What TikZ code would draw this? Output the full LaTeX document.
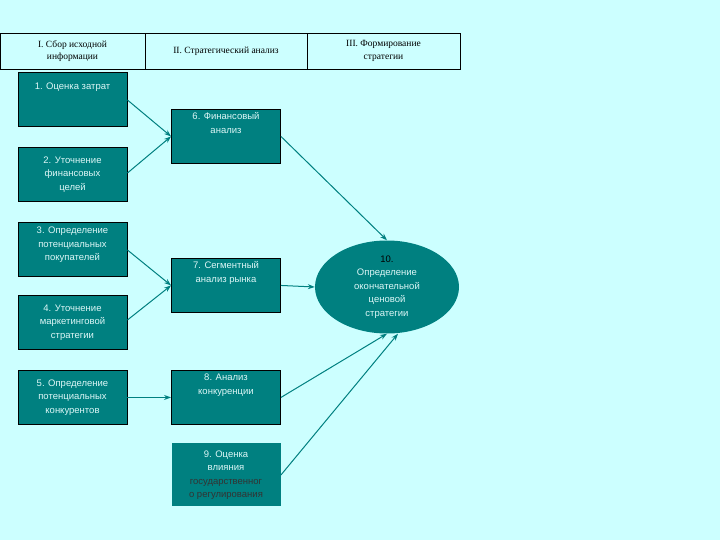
\documentclass[tikz,border=0pt]{standalone}
\usepackage{fontspec}
\setmainfont{Liberation Sans}
\newfontfamily\hdrfont{Liberation Serif}
\usetikzlibrary{shapes.geometric,arrows.meta}
\definecolor{bg}{HTML}{CCFFFF}
\definecolor{tealf}{HTML}{008080}
\definecolor{ltxt}{HTML}{DDF7F7}
\begin{document}
\begin{tikzpicture}[x=1pt,y=-1pt,
 box/.style={draw=black,line width=0.9pt,fill=tealf,text=ltxt,minimum width=109pt,minimum height=54pt,inner sep=2pt,font=\fontsize{9.5}{13.5}\selectfont,align=center},
 hdr/.style={draw=black,line width=0.8pt,fill=bg,minimum height=36pt,font=\hdrfont\fontsize{9.5}{12.5}\selectfont,align=center,inner sep=0pt},
 arr/.style={draw=tealf,line width=1pt,-{Stealth[length=7pt,width=5pt]}}]
\useasboundingbox (0,0) rectangle (720,540);
\fill[bg] (0,0) rectangle (720,540);
\node[hdr,minimum width=145pt] (h1) at (72.5,51) {I. Сбор исходной\\информации};
\node[hdr,minimum width=162pt] (h2) at (226,51) {II. Стратегический анализ};
\node[hdr,minimum width=153pt] (h3) at (383.5,51) {III. Формирование\\стратегии};
\node[box,anchor=north] (b1) at (72.5,72) {1. Оценка затрат\\[13.5pt]\mbox{}};
\node[box,anchor=north] (b2) at (72.5,147) {2. Уточнение\\финансовых\\целей};
\node[box,anchor=north] (b3) at (72.5,222) {3. Определение\\потенциальных\\покупателей\\[-2pt]};
\node[box,anchor=north] (b4) at (72.5,295) {4. Уточнение\\маркетинговой\\стратегии};
\node[box,anchor=north] (b5) at (72.5,370) {5. Определение\\потенциальных\\конкурентов};
\node[box,anchor=north] (b6) at (226,109) {6. Финансовый\\анализ\\[13.5pt]\mbox{}};
\node[box,anchor=north] (b7) at (226,258) {7. Сегментный\\анализ рынка\\[13.5pt]\mbox{}};
\node[box,anchor=north] (b8) at (226,370) {8. Анализ\\конкуренции\\[13.5pt]\mbox{}};
\node[box,draw=none,anchor=north,minimum height=63pt] (b9) at (226,443) {9. Оценка\\влияния\\\textcolor{black!80}{государственног}\\\textcolor{black!80}{о регулирования}};
\node[ellipse,fill=tealf,minimum width=144pt,minimum height=93pt,inner sep=0pt,text=ltxt,font=\fontsize{9.5}{13.5}\selectfont,align=center] (e) at (387,287) {\textcolor{black}{10.}\\Определение\\окончательной\\ценовой\\стратегии};
\draw[arr] (b1.east |- 0,100) -- (b6.west);
\draw[arr] (b2.east |- 0,173) -- (b6.west);
\draw[arr] (b6.east) -- (e.north);
\draw[arr] (b3.east |- 0,250) -- (b7.west);
\draw[arr] (b4.east |- 0,320) -- (b7.west);
\draw[arr] (b7.east) -- (e.west);
\draw[arr] (b5.east) -- (b8.west);
\draw[arr] (b8.east) -- (e.south);
\draw[arr] (b9.east) -- ([xshift=11pt]e.south);
\end{tikzpicture}
\end{document}
